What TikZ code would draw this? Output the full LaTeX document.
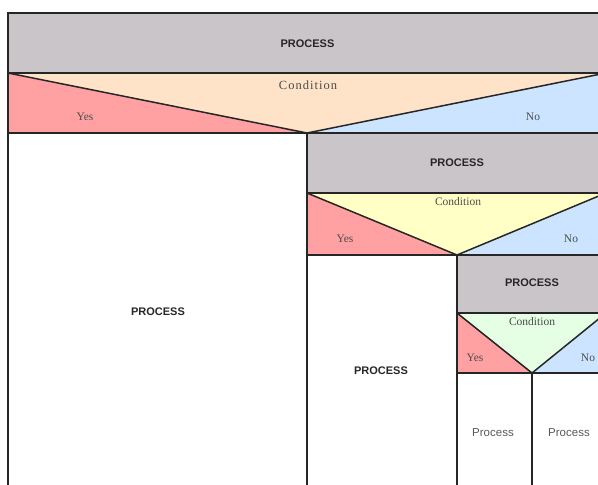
\documentclass[tikz,border=0pt]{standalone}
\usepackage{fontspec}
\setmainfont{Liberation Serif}
\setsansfont{Liberation Sans}
\begin{document}
\begin{tikzpicture}[x=1pt,y=-1pt,
  line/.style={line width=1.5pt,draw=black!85},
  procbold/.style={font=\sffamily\bfseries\fontsize{11}{12}\selectfont,text=black!85},
  procplain/.style={font=\sffamily\fontsize{11.5}{12}\selectfont,text=black!65},
  condtext/.style={font=\fontsize{11.5}{12}\selectfont,text=black!70},
  branch/.style={font=\fontsize{11.5}{12}\selectfont,text=black!70}]
\definecolor{procgray}{RGB}{201,197,201}
\definecolor{peach}{RGB}{255,227,200}
\definecolor{yesred}{RGB}{255,160,162}
\definecolor{noblue}{RGB}{204,228,255}
\definecolor{paleyellow}{RGB}{255,255,198}
\definecolor{palegreen}{RGB}{228,255,228}
\useasboundingbox (0,0) rectangle (598,485);
\clip (0,0) rectangle (598,485);
% right edge of the chart lies just beyond the visible area
\def\R{606}

% ---- level 1 ----
\fill[procgray] (8,13) rectangle (\R,73);
\fill[yesred] (8,73) -- (8,133) -- (307,133) -- cycle;
\fill[noblue] (307,133) -- (\R,133) -- (\R,73) -- cycle;
\fill[peach] (8,73) -- (\R,73) -- (307,133) -- cycle;
% ---- level 2 ----
\fill[procgray] (307,133) rectangle (\R,193);
\fill[yesred] (307,193) -- (307,255) -- (457,255) -- cycle;
\fill[noblue] (457,255) -- (\R,255) -- (\R,193) -- cycle;
\fill[paleyellow] (307,193) -- (\R,193) -- (457,255) -- cycle;
% ---- level 3 ----
\fill[procgray] (457,255) rectangle (\R,313);
\fill[yesred] (457,313) -- (457,373) -- (532,373) -- cycle;
\fill[noblue] (532,373) -- (\R,373) -- (\R,313) -- cycle;
\fill[palegreen] (457,313) -- (\R,313) -- (532,373) -- cycle;

% ---- outlines ----
\draw[line] (8,490) -- (8,13) -- (\R,13) -- (\R,490);
\draw[line] (8,73) -- (\R,73);
\draw[line] (8,73) -- (307,133) -- (\R,73);
\draw[line] (8,133) -- (\R,133);
\draw[line] (307,133) -- (307,490);
\draw[line] (307,193) -- (\R,193);
\draw[line] (307,193) -- (457,255) -- (\R,193);
\draw[line] (307,255) -- (\R,255);
\draw[line] (457,255) -- (457,490);
\draw[line] (457,313) -- (\R,313);
\draw[line] (457,313) -- (532,373) -- (\R,313);
\draw[line] (457,373) -- (\R,373);
\draw[line] (532,373) -- (532,490);

% ---- texts ----
\node[procbold] (p1) at (307.5,44) {PROCESS};
\node[condtext,font=\addfontfeature{LetterSpace=8}\fontsize{12.5}{13}\selectfont] (c1) at (308,85) {Condition};
\node[branch] (y1) at (85,117) {Yes};
\node[branch] (n1) at (533,117) {No};

\node[procbold] (p2) at (457,163) {PROCESS};
\node[condtext] (c2) at (458,202) {Condition};
\node[branch] (y2) at (345,239) {Yes};
\node[branch] (n2) at (571,239) {No};

\node[procbold] (p3) at (532,283) {PROCESS};
\node[condtext] (c3) at (532,322) {Condition};
\node[branch] (y3) at (475,358) {Yes};
\node[branch] (n3) at (588,358) {No};

\node[procbold] (pyes1) at (158,312) {PROCESS};
\node[procbold] (pyes2) at (381,371) {PROCESS};
\node[procplain] (pyes3) at (493,433) {Process};
\node[procplain] (pno3) at (569,433) {Process};
\end{tikzpicture}
\end{document}
